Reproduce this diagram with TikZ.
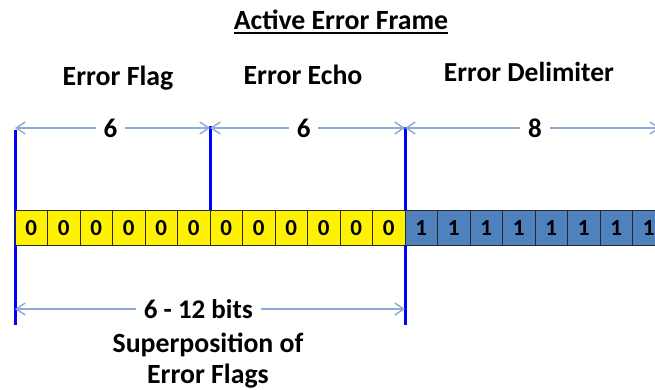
\documentclass[tikz,border=0pt]{standalone}
\usepackage{fontspec}
\setmainfont{Carlito}
\usetikzlibrary{arrows.meta}
\definecolor{dimline}{RGB}{141,171,214}
\definecolor{delimblue}{RGB}{79,129,189}
\definecolor{markblue}{RGB}{0,0,255}
\definecolor{celledge}{RGB}{40,40,40}
\tikzset{
  bitcell/.style={draw=celledge, line width=0.9pt, minimum width=32.5pt,
    minimum height=35pt, inner sep=0pt, font=\fontsize{23}{23}\selectfont\bfseries},
  zerocell/.style={bitcell, fill=yellow},
  onecell/.style={bitcell, fill=delimblue},
  heading/.style={font=\fontsize{27.8}{28}\selectfont\bfseries, anchor=base, inner sep=0pt},
  dimarrow/.style={draw=dimline, line width=1.4pt,
    {Straight Barb[length=9pt,width=12pt]}-{Straight Barb[length=9pt,width=12pt]}},
  dimlabel/.style={fill=white, inner xsep=8pt, inner ysep=2pt,
    font=\fontsize{27}{27}\selectfont\bfseries},
  marker/.style={draw=markblue, line width=3pt}
}
\begin{document}
\begin{tikzpicture}[x=1pt,y=-1pt]
\clip (0,0) rectangle (655,390);
\fill[white] (0,0) rectangle (655,390);

% headings
\node[heading] (title) at (341,30) {Active Error Frame};
\draw[line width=2pt] ([yshift=-3.5pt]title.base west) -- ([yshift=-3.5pt]title.base east);
\node[heading] (flag) at (118,86) {Error Flag};
\node[heading] (echo) at (303,85) {Error Echo};
\node[heading, font=\fontsize{27.5}{28}\selectfont\bfseries] (delim) at (529,82) {Error Delimiter};

% frame markers (drawn first so the cells sit on top)
\coordinate (m0t) at (15,130);  \coordinate (m0b) at (15,325);
\coordinate (m1t) at (210,126); \coordinate (m1b) at (210,211);
\coordinate (m2t) at (405,127); \coordinate (m2b) at (405,325);
\draw[marker] (m0t) -- (m0b);
\draw[marker] (m1t) -- (m1b);
\draw[marker] (m2t) -- (m2b);

% error flag + echo bits (dominant zeros)
\foreach \i in {0,...,11}
  \node[zerocell] (z\i) at ({31.25+32.5*\i},228) {0};
% error delimiter bits (recessive ones)
\foreach \i in {0,...,7}
  \node[onecell] (o\i) at ({421.25+32.5*\i},228) {1};

% dimension arrows
\coordinate (d0) at (15,128);
\coordinate (d1) at (210,128);
\coordinate (d2) at (405,128);
\coordinate (d3) at (660,128);
\draw[dimarrow] (d0) -- node[dimlabel, pos=0.49] (n1) {6} (d1);
\draw[dimarrow] (d1) -- node[dimlabel, pos=0.48] (n2) {6} (d2);
\draw[dimarrow] (d2) -- node[dimlabel, pos=0.51] (n3) {8} (d3);

\coordinate (b0) at (15,309);
\coordinate (b1) at (405,309);
\draw[dimarrow] (b0) -- node[dimlabel, pos=0.47] (nb) {6 - 12 bits} (b1);

% caption
\node[heading] (sup1) at (208,352) {Superposition of};
\node[heading] (sup2) at (208,383) {Error Flags};
\end{tikzpicture}
\end{document}
